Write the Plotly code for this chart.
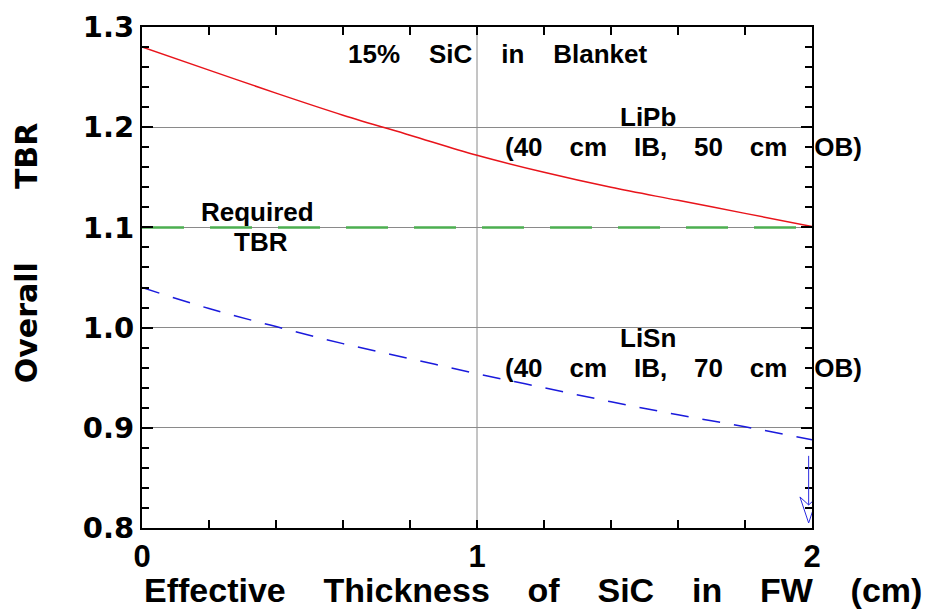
import plotly.graph_objects as go

# ---- data ----
x_thk = [0.0, 0.2, 0.4, 0.6, 0.8, 1.0, 1.2, 1.4, 1.6, 1.8, 2.0]
tbr_lipb = [1.280, 1.257, 1.234, 1.212, 1.192, 1.172, 1.155, 1.140, 1.127, 1.114, 1.101]
tbr_lisn = [1.040, 1.019, 1.001, 0.984, 0.969, 0.954, 0.940, 0.926, 0.913, 0.901, 0.888]
req_x = [0.0, 2.0]
req_tbr = [1.1, 1.1]
arrow_x = 1.99
arrow_y = [0.872, 0.805]

x_ticks = [0.0, 0.2, 0.4, 0.6, 0.8, 1.0, 1.2, 1.4, 1.6, 1.8, 2.0]
x_ticklabels = ["0", "", "", "", "", "1", "", "", "", "", "2"]
x_grid = [1.0]
y_ticks = [0.8, 0.9, 1.0, 1.1, 1.2, 1.3]
y_ticklabels = ["0.8", "0.9", "1.0", "1.1", "1.2", "1.3"]

NB = "\u00a0"
TH = "\u2009"
def sp(n):
    return NB * n

BOLD = "Liberation Sans, Arial, sans-serif"
DEJA = "DejaVu Sans, sans-serif"

fig = go.Figure()

# vertical grid line(s)
for gx in x_grid:
    fig.add_shape(type="line", xref="x", yref="paper", x0=gx, x1=gx, y0=0, y1=1,
                  line=dict(color="#8a8a8a", width=1), layer="below")

fig.add_trace(go.Scatter(x=req_x, y=req_tbr, mode="lines",
                         line=dict(color="#4caf50", width=2.5, dash="42px,26px"),
                         showlegend=False))
fig.add_trace(go.Scatter(x=x_thk, y=tbr_lipb, mode="lines", line_shape="spline",
                         line=dict(color="#e8141b", width=1.5), showlegend=False))
fig.add_trace(go.Scatter(x=x_thk, y=tbr_lisn, mode="lines", line_shape="spline",
                         line=dict(color="#1a1adc", width=1.5, dash="18px,14px"),
                         showlegend=False))

# arrow at x=2
fig.add_shape(type="line", x0=arrow_x, x1=arrow_x, y0=arrow_y[0], y1=arrow_y[1] + 0.018,
              line=dict(color="#2a2ae0", width=1))
tip = arrow_y[1]
fig.add_shape(type="path",
              path=f"M {arrow_x-0.026} {tip+0.026} L {arrow_x} {tip} L {arrow_x+0.026} {tip+0.026} L {arrow_x} {tip+0.018} Z",
              line=dict(color="#2a2ae0", width=1), fillcolor="rgba(0,0,0,0)")

ann_font = dict(family=BOLD, size=26, color="black", weight="bold")
def txt(x, y, s, **kw):
    fig.add_annotation(x=x, y=y, xref="x", yref="y", text=s, showarrow=False,
                       font=ann_font, xanchor="center", yanchor="middle", **kw)

g = sp(3) + TH
txt(1.06, 1.273, "15%" + sp(4) + "SiC" + sp(4) + "in" + sp(4) + "Blanket")
txt(1.51, 1.210, "LiPb")
txt(1.615, 1.180, "(40" + g + "cm" + g + "IB," + g + "50" + g + "cm" + g + "OB)")
txt(0.346, 1.115, "Required")
txt(0.355, 1.085, "TBR")
txt(1.51, 0.990, "LiSn")
txt(1.615, 0.960, "(40" + g + "cm" + g + "IB," + g + "70" + g + "cm" + g + "OB)")

# axis titles as annotations
fig.add_annotation(x=-0.172, y=0.55, xref="paper", yref="paper", textangle=-90,
                   text="Overall" + sp(7) + "TBR", showarrow=False,
                   font=dict(family=DEJA, size=30, color="black", weight="bold"),
                   xanchor="center", yanchor="middle")
fig.add_annotation(x=0.584, y=-0.124, xref="paper", yref="paper",
                   text="Effective" + sp(4) + "Thickness" + sp(4) + "of" + sp(4) + "SiC" + sp(4)
                        + "in" + sp(4) + "FW" + sp(4) + "(cm)",
                   showarrow=False,
                   font=dict(family=BOLD, size=34, color="black", weight="bold"),
                   xanchor="center", yanchor="middle")

axis_common = dict(showline=True, linecolor="black", linewidth=2, mirror="allticks",
                   ticks="inside", tickcolor="black", tickwidth=2,
                   gridcolor="#8a8a8a", gridwidth=1, zeroline=False,
                   automargin=False)

fig.update_xaxes(range=[0, 2], tickvals=x_ticks, ticktext=x_ticklabels, ticklen=8,
                 showgrid=False,
                 tickfont=dict(family=BOLD, size=31, color="black", weight="bold"),
                 **axis_common)
fig.update_yaxes(range=[0.8, 1.3], tickvals=y_ticks, ticktext=y_ticklabels, ticklen=11,
                 showgrid=True,
                 ticksuffix=NB + NB,
                 tickfont=dict(family=DEJA, size=29, color="black", weight="bold"),
                 minor=dict(dtick=0.02, tick0=0.8, ticks="inside", ticklen=7, tickwidth=2,
                            tickcolor="black", showgrid=False),
                 **axis_common)

# the page adds an 8px body margin, so the margins are shifted by 8px
fig.update_layout(width=945, height=616, plot_bgcolor="white", paper_bgcolor="white",
                  margin=dict(l=134, r=141, t=19, b=96), showlegend=False)

fig.write_html("out.html")
